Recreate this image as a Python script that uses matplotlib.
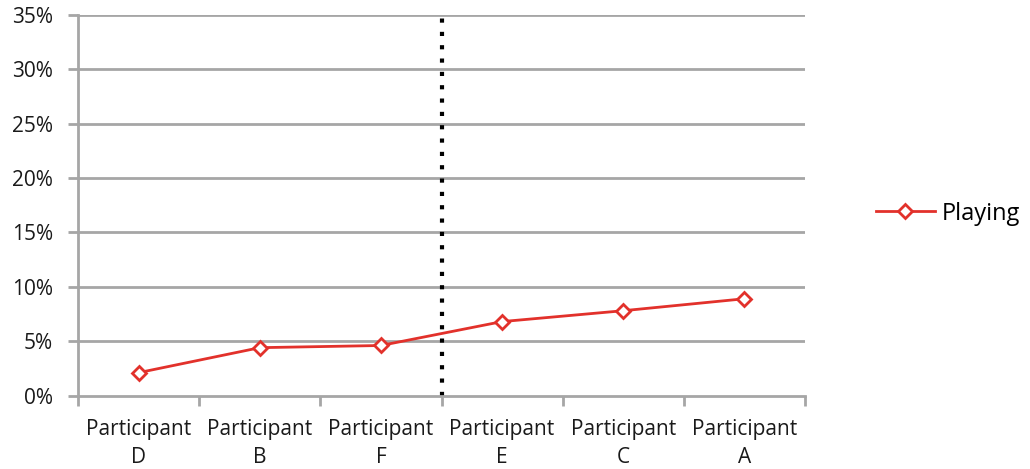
import matplotlib.pyplot as plt
import numpy as np
from matplotlib.ticker import FuncFormatter

# share of time spent playing, per participant
participants = ['Participant\nD', 'Participant\nB', 'Participant\nF',
                'Participant\nE', 'Participant\nC', 'Participant\nA']
playing = [2.1, 4.4, 4.6, 6.8, 7.8, 8.9]
y_ticks = [0, 5, 10, 15, 20, 25, 30, 35]
split_after = 3  # dotted separator after the third participant

plt.rcParams['font.family'] = ['Open Sans', 'DejaVu Sans']

fig = plt.figure(figsize=(10.30, 4.69), dpi=100)
ax = fig.add_axes([0.0757, 0.1567, 0.7059, 0.8113])

grey = '#a6a6a6'
red = '#e2312b'
x = np.arange(len(participants))

for t in y_ticks[1:]:
    ax.axhline(t, color=grey, lw=2, zorder=1)

ax.axvline(split_after - 0.5, color='black', lw=3, ls=(0, (1, 2.2)), zorder=2)

ax.plot(x, playing, color=red, lw=2, marker='D', ms=7, mfc='white',
        mec=red, mew=2, label='Playing', zorder=3)

ax.set_xlim(-0.5, len(participants) - 0.5)
ax.set_ylim(0, 35)
ax.set_yticks(y_ticks)
ax.yaxis.set_major_formatter(FuncFormatter(lambda v, p: f'{v:.0f}%'))
ax.set_xticks(x)
ax.set_xticklabels(participants, linespacing=1.4)
ax.set_xticks(np.arange(-0.5, len(participants)), minor=True)
ax.tick_params(axis='x', which='major', length=0, pad=17, labelsize=15,
               colors='#1a1a1a')
ax.tick_params(axis='x', which='minor', length=7, width=2, color=grey)
ax.tick_params(axis='y', length=7, width=2, color=grey, pad=11,
               labelsize=15, labelcolor='#1a1a1a')

for side in ['top', 'right']:
    ax.spines[side].set_visible(False)
for side in ['left', 'bottom']:
    ax.spines[side].set_color(grey)
    ax.spines[side].set_linewidth(2)

ax.legend(loc='center left', bbox_to_anchor=(1.068, 0.478), frameon=False,
          fontsize=17, handlelength=2.5, handletextpad=0.3)

fig.savefig('out.png', dpi=100)
